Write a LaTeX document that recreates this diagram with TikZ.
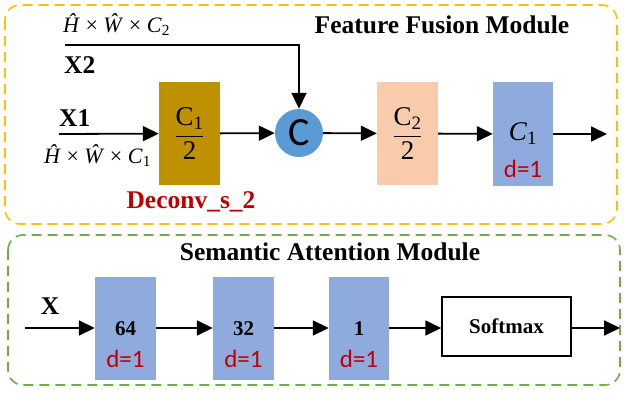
\documentclass[tikz,border=0pt]{standalone}
\usepackage{amsmath}
\usepackage{fontspec}
\setmainfont{Liberation Serif}
\newfontfamily\calibfont{Carlito}
\usetikzlibrary{arrows.meta}
\usetikzlibrary{positioning}
\definecolor{mgold}{HTML}{BF9000}
\definecolor{mpeach}{HTML}{F8CBAD}
\definecolor{mblue}{HTML}{8FAADC}
\definecolor{mcirc}{HTML}{5B9BD5}
\definecolor{mred}{HTML}{C00000}
\definecolor{myellow}{HTML}{FFC000}
\definecolor{mgreen}{HTML}{70AD47}
\tikzset{flow/.style = {-{Triangle[length = 16pt, width = 15pt]}, line width = 1.8pt}}
\tikzset{frame/.style = {line width = 1.6pt, dash pattern = on 10pt off 6pt, rounded corners = 15pt}}
\tikzset{blk/.style = {inner sep = 0, minimum width = 61pt, minimum height = 103pt, font = \fontsize{27}{30}\selectfont}}
\tikzset{dlab/.style = {text = mred, font = \calibfont\fontsize{25}{28}\selectfont}}
\tikzset{bigtxt/.style = {font = \bfseries\fontsize{25.5}{28}\selectfont}}
\tikzset{dimtxt/.style = {anchor = west, inner sep = 0, font = \fontsize{22}{25}\selectfont}}

\begin{document}
\begin{tikzpicture}[x = 1pt, y = -1pt]
  \useasboundingbox (0, 0) rectangle (624, 396);
  % module frames
  \draw [frame, draw = myellow] (5, 5) rectangle (617, 224);
  \draw [frame, draw = mgreen] (8, 235) rectangle (620, 385);
  \node [bigtxt] (ffm) at (442, 25) {Feature Fusion Module};
  \node [bigtxt] (sam) at (330, 252) {Semantic Attention Module};

  % feature fusion row
  \coordinate (in1) at (59, 134);
  \coordinate (in2) at (65, 45);
  \coordinate (out1) at (607, 134);
  \node [blk, fill = mgold] (deconv) at (189.5, 133.5) {$\dfrac{\text{C}_{\text{1}}}{\text{2}}$};
  \node [circle, fill = mcirc, inner sep = 0, minimum size = 48pt,
         font = \calibfont\fontsize{40}{44}\selectfont] (cat) at (299, 133) {C};
  \node [blk, fill = mpeach] (half) at (407.5, 133.5) {$\dfrac{\text{C}_{\text{2}}}{\text{2}}$};
  \node [blk, fill = mblue, minimum width = 60pt] (conv) at (523, 134) {\raisebox{4pt}{\textit{C}\textsubscript{1}}};
  \node [dlab, above = 4pt of conv.south] (dconv) {d=1};

  \node [dimtxt] (dim2) at (63, 25) {\textit{Ĥ} × \textit{Ŵ} × \textit{C}\textsubscript{2}};
  \node [bigtxt, anchor = west, inner sep = 0] (lx2) at (64, 65) {X2};
  \node [bigtxt, anchor = west, inner sep = 0] (lx1) at (59, 118) {X1};
  \node [dimtxt] (dim1) at (44, 156) {\textit{Ĥ} × \textit{Ŵ} × \textit{C}\textsubscript{1}};
  \node [bigtxt, text = mred] (dlbl) at (191, 202) {Deconv\_s\_2};

  \draw [flow] (in1) -- (deconv);
  \draw [flow] (deconv) -- (cat);
  \draw [flow] (in2) -| (cat.north);
  \draw [flow] (cat) -- (half);
  \draw [flow] (half) -- (conv);
  \draw [flow] (conv) -- (out1);

  % semantic attention row
  \coordinate (inx) at (25, 328);
  \coordinate (outx) at (620, 328);
  \node [bigtxt] (lx) at (50, 306) {X};
  \node [blk, fill = mblue, font = \bfseries\fontsize{21}{24}\selectfont] (b64) at (125.5, 328.5) {64};
  \node [blk, fill = mblue, font = \bfseries\fontsize{21}{24}\selectfont] (b32) at (243.5, 328.5) {32};
  \node [blk, fill = mblue, minimum width = 60pt, font = \bfseries\fontsize{21}{24}\selectfont] (b1) at (359, 328.5) {1};
  \node [draw, line width = 1.5pt, fill = white, minimum width = 129pt, minimum height = 59pt,
         font = \bfseries\fontsize{21}{24}\selectfont] (soft) at (506.5, 326.5) {Softmax};
  \foreach \b in {b64, b32, b1} {
    \node [dlab, above = 9pt of \b.south] {d=1};
  }

  \draw [flow] (inx) -- (b64.west |- inx);
  \draw [flow] (b64.east |- inx) -- (b32.west |- inx);
  \draw [flow] (b32.east |- inx) -- (b1.west |- inx);
  \draw [flow] (b1.east |- inx) -- (soft.west |- inx);
  \draw [flow] (soft.east |- inx) -- (outx);
\end{tikzpicture}
\end{document}
